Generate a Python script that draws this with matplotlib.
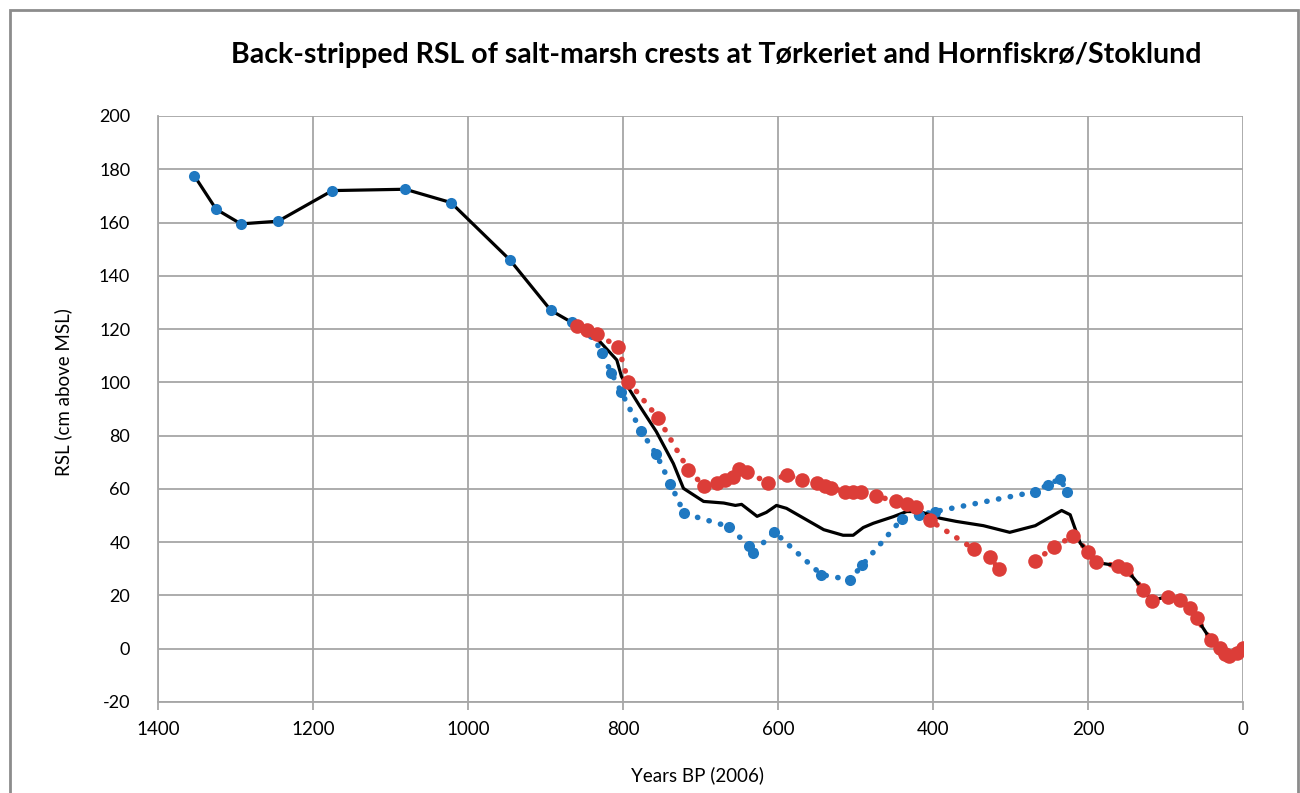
import matplotlib
matplotlib.use('Agg')
import matplotlib.pyplot as plt
import numpy as np
from matplotlib.patches import Rectangle

plt.rcParams['axes.unicode_minus'] = False

# blue series (crest points, first site)
blue_x = [1353, 1325, 1293, 1245, 1175, 1081, 1022, 946, 893, 866, 840, 827, 815, 802,
          777, 757, 739, 721, 663, 638, 632, 605, 544, 507, 491, 440, 418, 397,
          269, 252, 236, 227]
blue_y = [177.5, 165, 159.5, 160.5, 172, 172.5, 167.5, 146, 127, 122.5, 118, 111, 103.5, 96.3,
          81.8, 73, 62, 50.8, 45.8, 38.6, 35.9, 43.9, 27.8, 25.9, 31.5, 48.8, 50.3, 51.5,
          58.9, 61.5, 63.8, 58.8]

# red series (crest points, second site); nan = gap in the dotted line
red_x = [860, 847, 833, 806, 793, 754.5, 715.7, 696, 679, 668, 658.5, 650, 639.6, 613.3,
         588.8, 568.6, 550, 539.4, 531.6, 513.5, 502.8, 492.9, 473.5, 447.7, 434, 422, 403.9,
         346.7, 326.5, 315.3, np.nan, 268.4, 243.9, 219, 199.6, 189.7, 161, 151, 128.6, 117.8,
         97.2, 81.3, 68.4, 59.7, 41.7, 29.7, 23.2, 17.6, 8.2, -0.4]
red_y = [121.2, 119.7, 118.2, 113.1, 100.3, 86.6, 67.2, 61.2, 62.4, 63.4, 64.4, 67.4, 66.2, 62.4,
         65.3, 63.4, 62.4, 61.2, 60.3, 59, 59, 59, 57.2, 55.5, 54.2, 53.1, 48.2,
         37.3, 34.3, 30, np.nan, 33, 38.1, 42.4, 36.5, 32.4, 31.1, 30, 22.1, 18.1,
         19.6, 18.4, 15.3, 11.4, 3.4, 0.3, -1.9, -2.9, -1.6, 0.3]

# combined curve
mean_x = [1353, 1325, 1293, 1245, 1175, 1081, 1022, 946, 893, 866, 834, 808, 802, 778, 757,
          735, 722, 696, 670, 655, 647, 627, 615, 602, 589, 541, 516, 503, 490, 477, 451,
          434, 417, 391, 370, 335, 301, 268, 234, 223, 210, 199.6, 189.7, 161, 151, 128.6,
          117.8, 97.2, 81.3, 68.4, 59.7, 41.7, 29.7, 23.2, 17.6, 8.2, -0.4]
mean_y = [177.5, 165, 159.5, 160.5, 172, 172.5, 167.5, 146, 127, 122.5, 116.6, 108.4, 102.2, 90.9, 81.5,
          69.5, 60.2, 55.3, 54.7, 53.8, 54.2, 49.7, 51.2, 53.8, 52.7, 44.7, 42.6, 42.6, 45.5, 47.1, 49.6,
          51.5, 51.5, 49, 47.8, 46.2, 43.7, 46.2, 51.9, 50.3, 39.6, 36.5, 32.4, 31.1, 30, 22.1,
          18.1, 19.6, 18.4, 15.3, 11.4, 3.4, 0.3, -1.9, -2.9, -1.6, 0.3]

x_ticks = [1400, 1200, 1000, 800, 600, 400, 200, 0]
y_ticks = [-20, 0, 20, 40, 60, 80, 100, 120, 140, 160, 180, 200]

BLUE = '#1f78c1'
RED = '#dc3d38'
GRID = '#a6a6a6'
FONT = ['Lato', 'DejaVu Sans']

fig = plt.figure(figsize=(13, 7.93), dpi=100)
ax = fig.add_axes([158/1300, 1-702/793, (1243-158)/1300, (702-116)/793])

# blue dotted trend only visible once it leaves the black curve (from ~866 on)
dotted = (0, (0.05, 2.1))
ax.plot(blue_x[9:], blue_y[9:], color=BLUE, lw=4, linestyle=dotted, dash_capstyle='round', zorder=2)
ax.plot(red_x, red_y, color=RED, lw=4, linestyle=dotted, dash_capstyle='round', zorder=2)
ax.plot(mean_x, mean_y, color='black', lw=2.3, zorder=3)
ax.plot(blue_x, blue_y, 'o', color=BLUE, ms=8, mec='none', zorder=4)
ax.plot(red_x, red_y, 'o', color=RED, ms=10.5, mec='none', zorder=5)

ax.set_xlim(1400, 0)
ax.set_ylim(-20, 200)
ax.set_xticks(x_ticks)
ax.set_yticks(y_ticks)
ax.grid(True, color=GRID, lw=1.3)
ax.set_axisbelow(True)
for s in ['top', 'right']:
    ax.spines[s].set_visible(False)
for s in ['left', 'bottom']:
    ax.spines[s].set_color(GRID)
    ax.spines[s].set_linewidth(1.3)
ax.tick_params(axis='x', length=6, width=1.3, color=GRID, pad=8, labelsize=13.5)
ax.tick_params(axis='y', length=0, pad=20, labelsize=13)
for lab in ax.get_xticklabels() + ax.get_yticklabels():
    lab.set_family(FONT)

fig.text(697/1300, 1-775/793, 'Years BP (2006)', ha='center', va='center',
         fontsize=13.5, family=FONT)
fig.text(63/1300, 1-392/793, 'RSL (cm above MSL)', ha='center', va='center',
         rotation=90, fontsize=13.5, family=FONT)
fig.text(716/1300, 1-55/793,
         'Back-stripped RSL of salt-marsh crests at Tørkeriet and Hornfiskrø/Stoklund',
         ha='center', va='center', fontsize=20.5, fontweight='bold', family=FONT)

fig.patches.append(Rectangle((10/1300, -0.1), 1288/1300, 1.1-10/793, transform=fig.transFigure,
                             fill=False, edgecolor='#8c8c8c', lw=2))

fig.savefig('out.png', dpi=100, facecolor='white')
